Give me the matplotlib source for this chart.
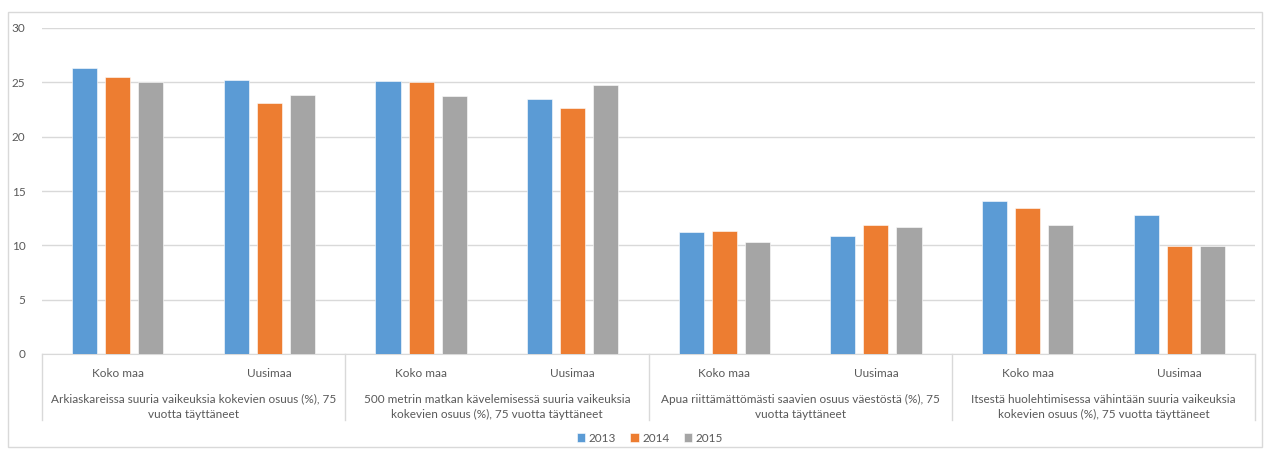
import matplotlib.pyplot as plt
import matplotlib.transforms as mtransforms
from matplotlib.patches import Rectangle
import numpy as np

plt.rcParams['font.family'] = ['Lato', 'DejaVu Sans']

regions = ['Koko maa', 'Uusimaa'] * 4
groups = ['Arkiaskareissa suuria vaikeuksia kokevien osuus (%), 75\nvuotta täyttäneet',
          '500 metrin matkan kävelemisessä suuria vaikeuksia\nkokevien osuus (%), 75 vuotta täyttäneet',
          'Apua riittämättömästi saavien osuus väestöstä (%), 75\nvuotta täyttäneet',
          'Itsestä huolehtimisessa vähintään suuria vaikeuksia\nkokevien osuus (%), 75 vuotta täyttäneet']
years = ['2013', '2014', '2015']
v2013 = [26.3, 25.2, 25.1, 23.5, 11.2, 10.9, 14.1, 12.8]
v2014 = [25.5, 23.1, 25.0, 22.6, 11.3, 11.9, 13.4, 9.9]
v2015 = [25.0, 23.8, 23.7, 24.8, 10.3, 11.7, 11.9, 9.9]
colors = ['#5B9BD5', '#ED7D31', '#A5A5A5']

fig = plt.figure(figsize=(12.67, 4.54), dpi=100)
ax = fig.add_axes([42/1267, 100/454, (1255-42)/1267, 326/454])

# chart frame
fig.patches.append(Rectangle((8/1267, 7/454), 1254/1267, 435/454, transform=fig.transFigure,
                             fill=False, edgecolor='#d9d9d9', linewidth=1))

x = np.arange(len(regions))
w = 0.165
step = 0.218
for i, vals in enumerate([v2013, v2014, v2015]):
    ax.bar(x + (i - 1) * step, vals, w, color=colors[i], label=years[i],
           edgecolor='white', linewidth=0.4, zorder=3)

ax.set_xlim(-0.5, len(regions) - 0.5)
ax.set_ylim(0, 30)
ax.set_yticks(range(0, 31, 5))
ax.grid(axis='y', color='#d9d9d9', linewidth=1, zorder=0)
for s in ['top', 'right', 'left']:
    ax.spines[s].set_visible(False)
ax.spines['bottom'].set_color('#d9d9d9')
ax.tick_params(axis='y', length=0, pad=12, labelsize=8.5, labelcolor='#595959')
ax.tick_params(axis='x', length=0, pad=10, labelsize=8.5, labelcolor='#595959')
ax.set_xticks(x)
ax.set_xticklabels(regions)

trans = mtransforms.blended_transform_factory(ax.transData, ax.transAxes)
for k in range(len(groups) + 1):
    ax.plot([k * 2 - 0.5, k * 2 - 0.5], [0, -0.2025], transform=trans, color='#d9d9d9',
            linewidth=1, clip_on=False)
for k, g in enumerate(groups):
    ax.text(k * 2 + 0.5, -0.122, g, transform=trans, ha='center', va='top',
            fontsize=8.5, color='#595959', linespacing=1.45)

fig.legend(loc='center', bbox_to_anchor=(650/1267, 16/454), ncol=3, frameon=False,
           handlelength=0.7, handleheight=0.7, handletextpad=0.3, columnspacing=1.2,
           fontsize=8.5, labelcolor='#595959')

fig.savefig('out.png', dpi=100)
